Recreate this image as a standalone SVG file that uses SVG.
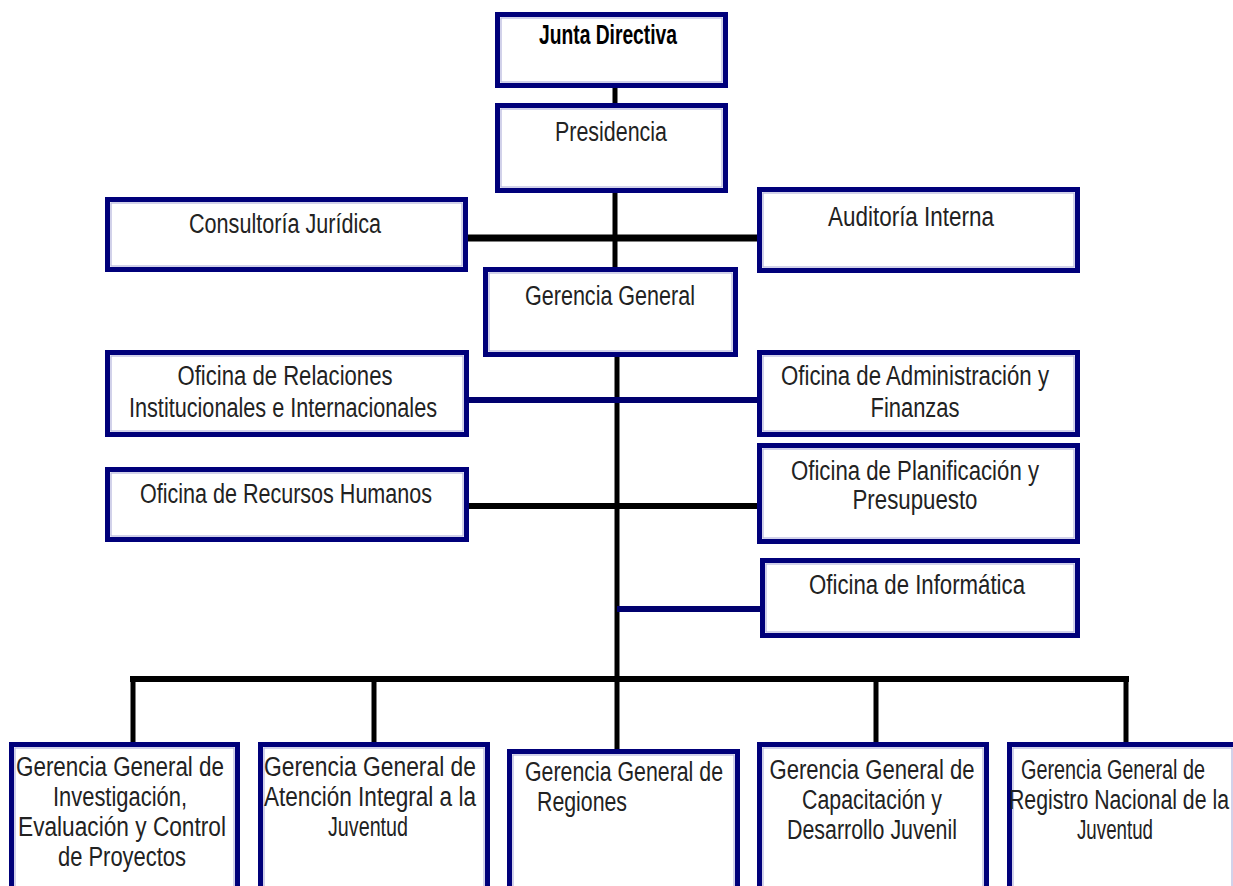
<svg xmlns="http://www.w3.org/2000/svg" width="1233" height="886" viewBox="0 0 1233 886">
<style>
.box{fill:#fff;stroke:#00007a;stroke-width:5}
.inner{fill:none;stroke:#b4b4dc;stroke-width:1.2}
.t{font-family:"Liberation Sans",Arial,sans-serif;font-size:27px;fill:#222;text-anchor:middle}
.b{font-family:"Liberation Sans",Arial,sans-serif;font-size:27px;fill:#222;text-anchor:middle}
.k{stroke:#000;fill:none}
.n{stroke:#00006e;fill:none}
</style>
<rect width="1233" height="886" fill="#fff"/>
<g id="connectors">
<path class="k" stroke-width="5" d="M615 86V105M615 191V269"/>
<path class="k" stroke-width="7" d="M466 238H759"/>
<path class="k" stroke-width="5" d="M617 355V680"/>
<path class="n" stroke-width="6" d="M467 400H759"/>
<path class="k" stroke-width="6" d="M467 506H759"/>
<path class="n" stroke-width="6" d="M617 609H762"/>
<path class="k" stroke-width="6" d="M130 679H1129"/>
<path class="k" stroke-width="5" d="M133 679V744M374 679V744M617 679V751M876 679V744M1126 679V744"/>
</g>
<g id="junta">
<rect class="box" x="497.5" y="14.5" width="228" height="71"/>
<rect class="inner" x="501" y="18" width="221" height="64"/>
<text x="608" y="44" font-family="Liberation Sans,Arial,sans-serif" font-weight="bold" font-size="28" fill="#000" text-anchor="middle" textLength="138" lengthAdjust="spacingAndGlyphs">Junta Directiva</text>
</g>
<g id="presidencia">
<rect class="box" x="497.5" y="105.5" width="228" height="85"/>
<rect class="inner" x="501" y="109" width="221" height="78"/>
<text class="t" x="611" y="141" textLength="112" lengthAdjust="spacingAndGlyphs">Presidencia</text>
</g>
<g id="consultoria">
<rect class="box" x="107.5" y="199.5" width="358" height="70"/>
<rect class="inner" x="111" y="203" width="351" height="63"/>
<text class="t" x="285" y="233" textLength="192" lengthAdjust="spacingAndGlyphs">Consultoría Jurídica</text>
</g>
<g id="auditoria">
<rect class="box" x="759.5" y="189.5" width="318" height="81"/>
<rect class="inner" x="763" y="193" width="311" height="74"/>
<text class="t" x="911" y="226" textLength="166" lengthAdjust="spacingAndGlyphs">Auditoría Interna</text>
</g>
<g id="gerencia">
<rect class="box" x="485.5" y="269.5" width="250" height="85"/>
<rect class="inner" x="489" y="273" width="243" height="78"/>
<text class="t" x="610" y="305" textLength="170" lengthAdjust="spacingAndGlyphs">Gerencia General</text>
</g>
<g id="relaciones">
<rect class="box" x="107.5" y="352.5" width="359" height="82"/>
<rect class="inner" x="111" y="356" width="352" height="75"/>
<text class="t" x="285" y="385" textLength="215" lengthAdjust="spacingAndGlyphs">Oficina  de Relaciones</text>
<text class="t" x="283" y="417" textLength="308" lengthAdjust="spacingAndGlyphs">Institucionales e Internacionales</text>
</g>
<g id="administracion">
<rect class="box" x="759.5" y="352.5" width="318" height="82"/>
<rect class="inner" x="763" y="356" width="311" height="75"/>
<text class="t" x="915" y="385" textLength="268" lengthAdjust="spacingAndGlyphs">Oficina  de Administración y</text>
<text class="t" x="915" y="417" textLength="89" lengthAdjust="spacingAndGlyphs">Finanzas</text>
</g>
<g id="recursos">
<rect class="box" x="107.5" y="469.5" width="359" height="70"/>
<rect class="inner" x="111" y="473" width="352" height="63"/>
<text class="t" x="286" y="503" textLength="292" lengthAdjust="spacingAndGlyphs">Oficina de Recursos Humanos</text>
</g>
<g id="planificacion">
<rect class="box" x="759.5" y="445.5" width="318" height="96"/>
<rect class="inner" x="763" y="449" width="311" height="89"/>
<text class="t" x="915" y="480" textLength="248" lengthAdjust="spacingAndGlyphs">Oficina  de Planificación y</text>
<text class="t" x="915" y="509" textLength="125" lengthAdjust="spacingAndGlyphs">Presupuesto</text>
</g>
<g id="informatica">
<rect class="box" x="762.5" y="560.5" width="315" height="75"/>
<rect class="inner" x="766" y="564" width="308" height="68"/>
<text class="t" x="917" y="594" textLength="216" lengthAdjust="spacingAndGlyphs">Oficina  de Informática</text>
</g>
<g id="gg-investigacion">
<rect class="box" x="11.5" y="744.5" width="226" height="160"/>
<rect class="inner" x="15" y="748" width="219" height="150"/>
<text class="b" x="120" y="776" textLength="208" lengthAdjust="spacingAndGlyphs">Gerencia General  de</text>
<text class="b" x="120" y="806" textLength="134" lengthAdjust="spacingAndGlyphs">Investigación,</text>
<text class="b" x="122" y="836" textLength="208" lengthAdjust="spacingAndGlyphs">Evaluación  y  Control</text>
<text class="b" x="122" y="866" textLength="128" lengthAdjust="spacingAndGlyphs">de Proyectos</text>
</g>
<g id="gg-atencion">
<rect class="box" x="260.5" y="744.5" width="227" height="160"/>
<rect class="inner" x="264" y="748" width="220" height="150"/>
<text class="b" x="370" y="776" textLength="212" lengthAdjust="spacingAndGlyphs">Gerencia  General  de</text>
<text class="b" x="370" y="806" textLength="212" lengthAdjust="spacingAndGlyphs">Atención Integral a la</text>
<text class="b" x="368" y="836" textLength="80" lengthAdjust="spacingAndGlyphs">Juventud</text>
</g>
<g id="gg-regiones">
<rect class="box" x="509.5" y="751.5" width="228" height="160"/>
<rect class="inner" x="513" y="755" width="221" height="150"/>
<text class="b" x="624" y="781" textLength="198" lengthAdjust="spacingAndGlyphs">Gerencia General de</text>
<text class="b" x="582" y="811" textLength="90" lengthAdjust="spacingAndGlyphs">Regiones</text>
</g>
<g id="gg-capacitacion">
<rect class="box" x="759.5" y="744.5" width="227" height="160"/>
<rect class="inner" x="763" y="748" width="220" height="150"/>
<text class="b" x="872" y="779" textLength="205" lengthAdjust="spacingAndGlyphs">Gerencia General   de</text>
<text class="b" x="872" y="809" textLength="140" lengthAdjust="spacingAndGlyphs">Capacitación y</text>
<text class="b" x="872" y="839" textLength="170" lengthAdjust="spacingAndGlyphs">Desarrollo Juvenil</text>
</g>
<g id="gg-registro">
<rect class="box" x="1009.5" y="744.5" width="226" height="160"/>
<rect class="inner" x="1013" y="748" width="219" height="150"/>
<text class="b" x="1113" y="779" textLength="184" lengthAdjust="spacingAndGlyphs">Gerencia General  de</text>
<text class="b" x="1119" y="809" textLength="220" lengthAdjust="spacingAndGlyphs">Registro Nacional de la</text>
<text class="b" x="1115" y="839" textLength="76" lengthAdjust="spacingAndGlyphs">Juventud</text>
</g>
</svg>
